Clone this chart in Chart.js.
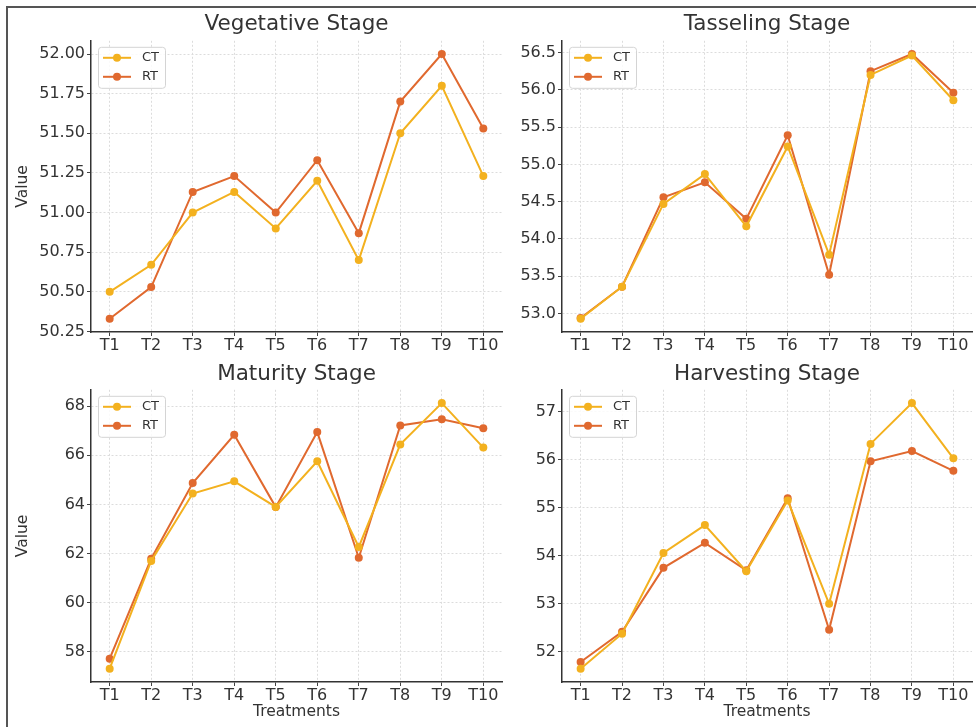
<!DOCTYPE html>
<html>
<head>
<meta charset="utf-8">
<script src="https://cdn.jsdelivr.net/npm/chart.js@4.4.0/dist/chart.umd.min.js"></script>
<style>
html, body { margin: 0; padding: 0; background: #fff; width: 976px; height: 727px; overflow: hidden; }
#frame { position: absolute; left: 6px; top: 6px; right: 0; bottom: 0; border-top: 2px solid #555; border-left: 2px solid #555; }
canvas { position: absolute; }
</style>
</head>
<body>
<div id="frame"></div>
<canvas id="veg" width="498" height="347" style="left:8px;top:8px"></canvas>
<canvas id="tas" width="466" height="347" style="left:510px;top:8px"></canvas>
<canvas id="mat" width="498" height="370" style="left:8px;top:357px"></canvas>
<canvas id="har" width="466" height="370" style="left:510px;top:357px"></canvas>
<script>
const treatments = ['T1', 'T2', 'T3', 'T4', 'T5', 'T6', 'T7', 'T8', 'T9', 'T10'];

const vegCT = [50.50, 50.67, 51.00, 51.13, 50.90, 51.20, 50.70, 51.50, 51.80, 51.23];
const vegRT = [50.33, 50.53, 51.13, 51.23, 51.00, 51.33, 50.87, 51.70, 52.00, 51.53];
const tasCT = [52.93, 53.36, 54.47, 54.87, 54.17, 55.24, 53.79, 56.20, 56.46, 55.86];
const tasRT = [52.94, 53.36, 54.56, 54.76, 54.27, 55.39, 53.52, 56.25, 56.48, 55.96];
const matCT = [57.32, 61.70, 64.44, 64.94, 63.90, 65.75, 62.27, 66.44, 68.12, 66.31];
const matRT = [57.73, 61.79, 64.87, 66.83, 63.89, 66.94, 61.83, 67.21, 67.46, 67.10];
const harCT = [51.65, 52.38, 54.06, 54.64, 53.68, 55.15, 53.00, 56.33, 57.18, 56.03];
const harRT = [51.79, 52.42, 53.75, 54.27, 53.70, 55.20, 52.46, 55.97, 56.18, 55.77];

const vegTicks = ['50.25', '50.50', '50.75', '51.00', '51.25', '51.50', '51.75', '52.00'];
const tasTicks = ['53.0', '53.5', '54.0', '54.5', '55.0', '55.5', '56.0', '56.5'];
const matTicks = ['58', '60', '62', '64', '66', '68'];
const harTicks = ['52', '53', '54', '55', '56', '57'];

const ctColor = '#f3b11f';
const rtColor = '#e0692f';
const textColor = '#333';
const font = 'DejaVu Sans';

// legend box drawn inside the plot, top-left, like matplotlib
const innerLegend = {
    id: 'innerLegend',
    afterDatasetsDraw(chart) {
        const ctx = chart.ctx;
        const area = chart.chartArea;
        const x = area.left + 7, y = area.top + 6, w = 67, h = 41;
        ctx.save();
        ctx.fillStyle = 'rgba(255,255,255,0.85)';
        ctx.strokeStyle = '#d4d4d4';
        ctx.lineWidth = 1;
        ctx.beginPath();
        ctx.roundRect(x + 0.5, y + 0.5, w, h, 3);
        ctx.fill();
        ctx.stroke();
        chart.data.datasets.forEach((ds, i) => {
            const ry = y + 11 + i * 19;
            ctx.strokeStyle = ds.borderColor;
            ctx.lineWidth = 2;
            ctx.beginPath();
            ctx.moveTo(x + 5, ry);
            ctx.lineTo(x + 33, ry);
            ctx.stroke();
            ctx.fillStyle = ds.borderColor;
            ctx.beginPath();
            ctx.arc(x + 19, ry, 4, 0, Math.PI * 2);
            ctx.fill();
            ctx.fillStyle = textColor;
            ctx.font = '13px "' + font + '"';
            ctx.textBaseline = 'middle';
            ctx.fillText(ds.label, x + 44, ry);
        });
        ctx.restore();
    }
};

function makeChart(id, title, ct, rt, tickLabels, cfg) {
    const tickValues = tickLabels.map(parseFloat);
    const all = ct.concat(rt);
    const lo = Math.min(...all), hi = Math.max(...all);
    const pad = (hi - lo) * 0.05;
    const points = arr => arr.map((v, i) => ({x: i, y: v}));
    const line = (label, arr, color) => ({
        label: label,
        data: points(arr),
        borderColor: color,
        backgroundColor: color,
        borderWidth: 2,
        pointRadius: 4,
        pointBorderWidth: 0,
        pointHoverRadius: 4,
        tension: 0,
    });
    return new Chart(document.getElementById(id), {
        type: 'line',
        data: {
            datasets: [line('CT', ct, ctColor), line('RT', rt, rtColor)],
        },
        options: {
            responsive: false,
            animation: false,
            layout: {padding: 0},
            plugins: {
                legend: {display: false},
                tooltip: {enabled: false},
                title: {
                    display: true,
                    text: title,
                    fullSize: false,
                    color: textColor,
                    font: {family: font, size: 21.5, weight: 'normal'},
                    padding: cfg.titlePad,
                },
            },
            scales: {
                x: {
                    type: 'linear',
                    min: -0.45,
                    max: treatments.length - 1 + 0.45,
                    afterBuildTicks: s => { s.ticks = treatments.map((t, i) => ({value: i})); },
                    afterFit: s => { s.height = cfg.xHeight; },
                    ticks: {
                        color: textColor,
                        font: {family: font, size: 16},
                        padding: 0,
                        maxRotation: 0,
                        autoSkip: false,
                        callback: v => treatments[v],
                    },
                    grid: {color: '#dcdcdc', lineWidth: 1, drawTicks: true, tickLength: 4, tickColor: '#444'},
                    border: {display: true, color: '#333', width: 1.5, dash: [2, 2]},
                    title: {
                        display: cfg.xTitle,
                        text: 'Treatments',
                        color: textColor,
                        font: {family: font, size: 15.5},
                        padding: {top: 0, bottom: 5.5},
                    },
                },
                y: {
                    min: lo - pad,
                    max: hi + pad,
                    afterBuildTicks: s => { s.ticks = tickValues.map(v => ({value: v})); },
                    afterFit: s => { s.width = cfg.yWidth; },
                    ticks: {
                        color: textColor,
                        font: {family: font, size: 16},
                        padding: 2,
                        callback: (v, i) => tickLabels[i],
                    },
                    grid: {color: '#dcdcdc', lineWidth: 1, drawTicks: true, tickLength: 4, tickColor: '#444'},
                    border: {display: true, color: '#333', width: 1.5, dash: [2, 2]},
                    title: {
                        display: cfg.yTitle,
                        text: 'Value',
                        color: textColor,
                        font: {family: font, size: 15.5},
                        padding: {top: 6, bottom: 0},
                    },
                },
            },
        },
        plugins: [innerLegend],
    });
}

makeChart('veg', 'Vegetative Stage', vegCT, vegRT, vegTicks,
    {yWidth: 83, xHeight: 23, titlePad: {top: 4, bottom: 3}, xTitle: false, yTitle: true});
makeChart('tas', 'Tasseling Stage', tasCT, tasRT, tasTicks,
    {yWidth: 52, xHeight: 23, titlePad: {top: 4, bottom: 3}, xTitle: false, yTitle: false});
makeChart('mat', 'Maturity Stage', matCT, matRT, matTicks,
    {yWidth: 83, xHeight: 45, titlePad: {top: 5, bottom: 2}, xTitle: true, yTitle: true});
makeChart('har', 'Harvesting Stage', harCT, harRT, harTicks,
    {yWidth: 52, xHeight: 45, titlePad: {top: 5, bottom: 2}, xTitle: true, yTitle: false});
</script>
</body>
</html>
